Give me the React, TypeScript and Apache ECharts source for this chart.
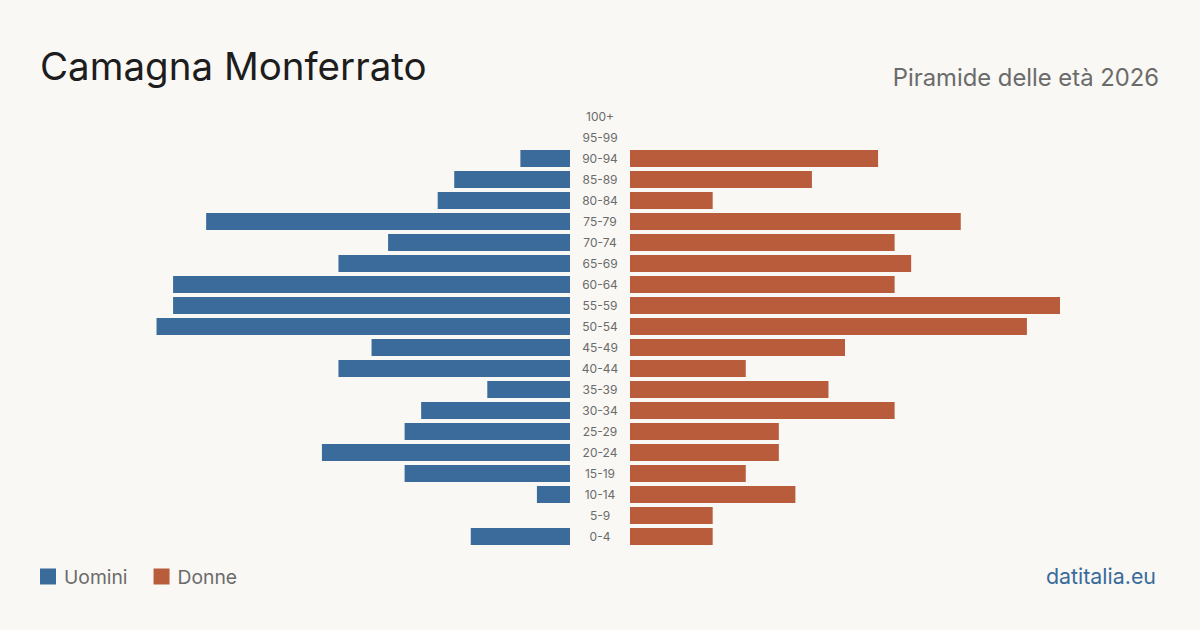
import React, { useEffect, useRef } from "react";
import * as echarts from "echarts";

const ageGroups = ["0-4","5-9","10-14","15-19","20-24","25-29","30-34","35-39","40-44","45-49","50-54","55-59","60-64","65-69","70-74","75-79","80-84","85-89","90-94","95-99","100+"];
const men = [6,0,2,10,15,10,9,5,14,12,25,24,24,14,11,22,8,7,3,0,0];
const women = [5,5,10,7,9,9,16,12,7,13,24,26,16,17,16,20,5,11,15,0,0];
const axisMax = 26;

const BLUE = "#3a6b9b";
const ORANGE = "#b95c3c";

export default function App() {
  const ref = useRef<HTMLDivElement>(null);
  useEffect(() => {
    const chart = echarts.init(ref.current!, null, { renderer: "svg" });
    const font = "Inter, 'Noto Sans', sans-serif";
    chart.setOption({
      animation: false,
      backgroundColor: "#f9f8f4",
      textStyle: { fontFamily: font },
      title: [
        { text: "Camagna Monferrato", left: 35, top: 41, textStyle: { fontSize: 38.5, fontWeight: 400, color: "#1d1d1d", fontFamily: font } },
        { text: "Piramide delle età 2026", right: 36, top: 60, textStyle: { fontSize: 23.8, fontWeight: 400, color: "#6b6b6b", fontFamily: font } },
        { text: "datitalia.eu", right: 39, top: 560, textStyle: { fontSize: 21.4, fontWeight: 400, color: BLUE, fontFamily: font } },
      ],
      legend: {
        left: 35, top: 562, icon: "rect", itemWidth: 16, itemHeight: 16, itemGap: 26,
        textStyle: { fontSize: 19.3, color: "#6b6b6b", fontFamily: font, padding: [0, 0, 0, 3] },
        data: ["Uomini", "Donne"],
      },
      grid: [
        { left: 140, width: 430, top: 106, height: 441 },
        { left: 630, width: 430, top: 106, height: 441 },
      ],
      xAxis: [
        { gridIndex: 0, type: "value", min: 0, max: axisMax, inverse: true, show: false },
        { gridIndex: 1, type: "value", min: 0, max: axisMax, show: false },
      ],
      yAxis: [
        {
          gridIndex: 0, type: "category", data: ageGroups, position: "right",
          axisLine: { show: false }, axisTick: { show: false },
          axisLabel: { align: "center", margin: 30, fontSize: 12, color: "#6b6b6b", fontFamily: font },
        },
        {
          gridIndex: 1, type: "category", data: ageGroups,
          axisLine: { show: false }, axisTick: { show: false }, axisLabel: { show: false },
        },
      ],
      series: [
        { name: "Uomini", type: "bar", xAxisIndex: 0, yAxisIndex: 0, data: men, barWidth: 17, itemStyle: { color: BLUE } },
        { name: "Donne", type: "bar", xAxisIndex: 1, yAxisIndex: 1, data: women, barWidth: 17, itemStyle: { color: ORANGE } },
      ],
    });
    return () => chart.dispose();
  }, []);
  return <div ref={ref} style={{ width: 1200, height: 630, position: "absolute", left: 0, top: 0 }} />;
}
